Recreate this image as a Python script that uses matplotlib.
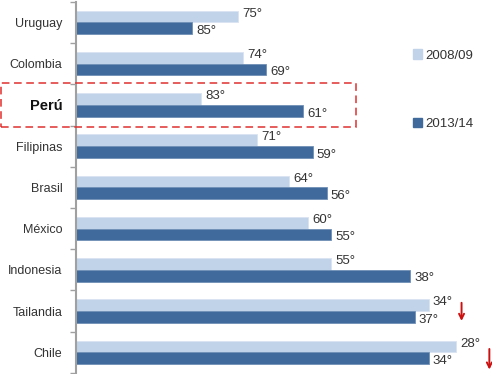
import matplotlib
matplotlib.use("Agg")
import matplotlib.pyplot as plt
from matplotlib.patches import Patch, Rectangle
import numpy as np

plt.rcParams["font.family"] = ["Liberation Sans", "DejaVu Sans"]

countries = ["Uruguay", "Colombia", "Perú", "Filipinas", "Brasil",
             "México", "Indonesia", "Tailandia", "Chile"]
rank_0809 = [75, 74, 83, 71, 64, 60, 55, 34, 28]
rank_1314 = [85, 69, 61, 59, 56, 55, 38, 37, 34]
series_names = ["2008/09", "2013/14"]
falling = ["Tailandia", "Chile"]   # countries marked with a red arrow

BASE = 110  # rank where bars start (axis is inverted: better rank = longer bar)
PX = 4.63   # pixels per rank
LIGHT = "#c0d3e9"
DARK = "#3f6a9b"
TXT = "#333333"

fig = plt.figure(figsize=(4.92, 3.74), dpi=100)
ax = fig.add_axes([0.155, 0.003, 0.845, 0.992])

y = np.arange(len(countries))
h = 0.285
ax.barh(y - h / 2, np.array(rank_0809) - BASE, left=BASE, height=h,
        color=LIGHT, edgecolor="#d8e3f1", linewidth=0.6)
ax.barh(y + h / 2, np.array(rank_1314) - BASE, left=BASE, height=h,
        color=DARK, edgecolor="#6f8fb6", linewidth=0.6)

for i, (a, b) in enumerate(zip(rank_0809, rank_1314)):
    ax.annotate(f"{a}°", (a, i - h / 2), xytext=(3, 2), textcoords="offset points",
                ha="left", va="center", fontsize=9.5, color=TXT)
    ax.annotate(f"{b}°", (b, i + h / 2), xytext=(3, -2), textcoords="offset points",
                ha="left", va="center", fontsize=9.5, color=TXT)

# red "falling" arrows to the right of the 2008/09 label
arrow_span = {"Tailandia": (-0.2, 0.24), "Chile": (-0.08, 0.42)}
for c in falling:
    i = countries.index(c)
    a = rank_0809[i] - 33 / PX
    y0, y1 = arrow_span[c]
    ax.annotate("", xy=(a, i + y1), xytext=(a, i + y0),
                arrowprops=dict(arrowstyle="->", color="#cc1010", lw=1.4,
                                shrinkA=0, shrinkB=0, mutation_scale=9),
                annotation_clip=False)

ax.set_xlim(BASE, BASE - 415.3 / PX)
ax.set_ylim(len(countries) - 0.5, -0.5)

ax.set_yticks(y)
ax.set_yticklabels(countries)
ax.set_yticks(np.arange(len(countries) + 1) - 0.5, minor=True)
ax.tick_params(axis="y", which="major", length=0, pad=10, labelsize=9, labelcolor=TXT)
ax.tick_params(axis="y", which="minor", length=4, width=1, color="#a0a0a0")
for lbl in ax.get_yticklabels():
    if lbl.get_text() == "Perú":
        lbl.set_fontweight("bold")
        lbl.set_fontsize(10.5)
        lbl.set_color("#111111")
ax.set_xticks([])
for s in ["top", "right", "bottom"]:
    ax.spines[s].set_visible(False)
ax.spines["left"].set_color("#a0a0a0")
ax.spines["left"].set_linewidth(1.5)

# highlight box around Perú
fig.patches.append(Rectangle((1 / 492, 1 - 127 / 374), 355 / 492, 44 / 374,
                             transform=fig.transFigure, fill=False,
                             edgecolor="#e03030", linestyle=(0, (5, 3)),
                             linewidth=1.1))

handles = [Patch(color=LIGHT), Patch(color=DARK)]
fig.legend(handles, series_names, loc="upper left", bbox_to_anchor=(0.815, 0.9),
           frameon=False, fontsize=9.5, labelspacing=4.3, handlelength=0.7,
           handleheight=0.7, handletextpad=0.25, labelcolor=TXT)

fig.savefig("out.png", dpi=100)
